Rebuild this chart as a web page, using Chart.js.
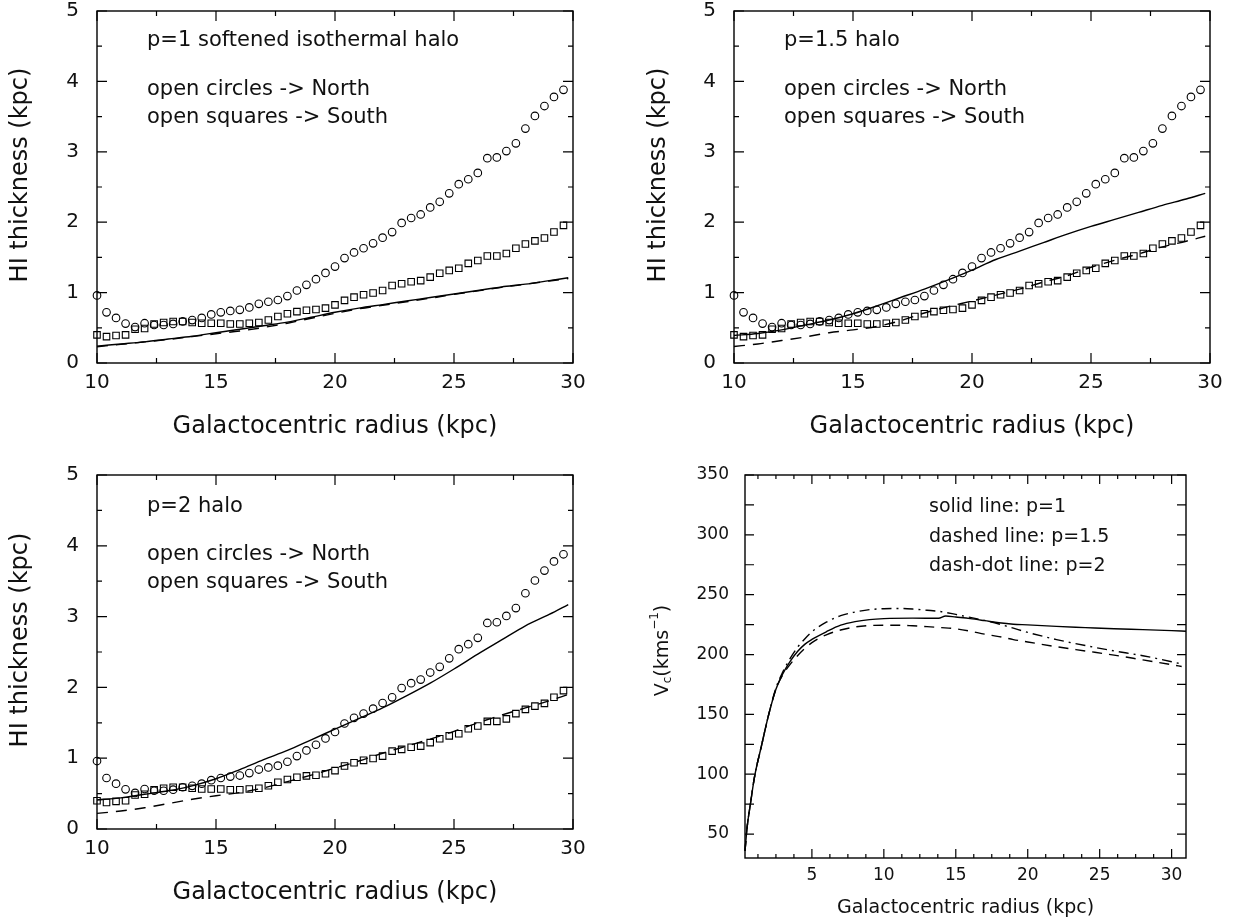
<!DOCTYPE html>
<html>
<head>
<meta charset="utf-8">
<script src="https://cdn.jsdelivr.net/npm/chart.js@4.4.1/dist/chart.umd.min.js"></script>
<style>
  body { margin: 0; background: #fff; width: 1237px; height: 922px; position: relative; overflow: hidden; }
  canvas { position: absolute; }
</style>
</head>
<body>
<canvas id="p1" width="618" height="460" style="left:0;top:0"></canvas>
<canvas id="p15" width="619" height="460" style="left:618px;top:0"></canvas>
<canvas id="p2" width="618" height="462" style="left:0;top:460px"></canvas>
<canvas id="vc" width="619" height="462" style="left:618px;top:460px"></canvas>
<script>
// HI thickness, observed (same points in the three upper/left panels)
const hiRadius = [10.0, 10.4, 10.8, 11.2, 11.6, 12.0, 12.4, 12.8, 13.2, 13.6,
                  14.0, 14.4, 14.8, 15.2, 15.6, 16.0, 16.4, 16.8, 17.2, 17.6,
                  18.0, 18.4, 18.8, 19.2, 19.6, 20.0, 20.4, 20.8, 21.2, 21.6,
                  22.0, 22.4, 22.8, 23.2, 23.6, 24.0, 24.4, 24.8, 25.2, 25.6,
                  26.0, 26.4, 26.8, 27.2, 27.6, 28.0, 28.4, 28.8, 29.2, 29.6];
const northHI = [0.96, 0.72, 0.64, 0.56, 0.51, 0.565, 0.54, 0.54, 0.555, 0.59,
                 0.61, 0.64, 0.69, 0.72, 0.74, 0.755, 0.79, 0.84, 0.87, 0.895,
                 0.95, 1.03, 1.11, 1.19, 1.28, 1.37, 1.49, 1.57, 1.63, 1.70,
                 1.78, 1.86, 1.99, 2.06, 2.11, 2.21, 2.29, 2.41, 2.54, 2.61,
                 2.70, 2.91, 2.92, 3.01, 3.12, 3.33, 3.51, 3.65, 3.78, 3.88];
const southHI = [0.40, 0.375, 0.39, 0.40, 0.48, 0.49, 0.555, 0.575, 0.59, 0.59,
                 0.575, 0.565, 0.565, 0.565, 0.555, 0.555, 0.565, 0.575, 0.61, 0.66,
                 0.70, 0.73, 0.75, 0.76, 0.78, 0.825, 0.89, 0.935, 0.97, 0.995,
                 1.03, 1.10, 1.125, 1.155, 1.17, 1.22, 1.275, 1.315, 1.345, 1.415,
                 1.455, 1.52, 1.52, 1.555, 1.63, 1.69, 1.735, 1.775, 1.86, 1.955];

// model thickness curves
const modelRadius = [10, 11, 12, 13, 14, 15, 16, 17, 18, 19, 20, 21, 22, 23, 24, 25, 26, 27, 28, 29, 29.8];
const p1Solid   = [0.24, 0.27, 0.30, 0.34, 0.38, 0.43, 0.48, 0.53, 0.58, 0.65, 0.72, 0.78, 0.83, 0.88, 0.93, 0.98, 1.03, 1.08, 1.12, 1.17, 1.21];
const p1Dashed  = [0.23, 0.265, 0.30, 0.335, 0.375, 0.415, 0.455, 0.505, 0.565, 0.635, 0.705, 0.77, 0.82, 0.87, 0.92, 0.975, 1.025, 1.075, 1.12, 1.165, 1.20];
const p15Solid  = [0.39, 0.42, 0.47, 0.54, 0.61, 0.70, 0.81, 0.93, 1.05, 1.18, 1.32, 1.47, 1.59, 1.71, 1.83, 1.94, 2.04, 2.14, 2.24, 2.33, 2.41];
const p15Dashed = [0.235, 0.27, 0.32, 0.37, 0.43, 0.47, 0.52, 0.60, 0.71, 0.80, 0.88, 0.965, 1.05, 1.15, 1.24, 1.36, 1.46, 1.55, 1.65, 1.73, 1.80];
const p2Solid   = [0.41, 0.44, 0.49, 0.54, 0.61, 0.71, 0.84, 0.98, 1.11, 1.26, 1.41, 1.56, 1.71, 1.88, 2.06, 2.26, 2.47, 2.67, 2.87, 3.03, 3.17];
const p2Dashed  = [0.22, 0.255, 0.30, 0.36, 0.42, 0.47, 0.515, 0.58, 0.67, 0.76, 0.86, 0.96, 1.07, 1.17, 1.27, 1.38, 1.50, 1.61, 1.71, 1.81, 1.90];

// rotation curves
const vcRadiusP1 = [0.35, 0.5, 0.75, 1.0, 1.5, 2.0, 2.5, 3.0, 3.5, 4.0, 4.5, 5.0, 6.0, 7.0, 8.0, 9.0, 10.0, 12.0, 13.8, 14.3, 15.0, 16.0, 17.0, 18.0, 19.0, 20.0, 22.0, 24.0, 26.0, 28.0, 30.0, 31.0];
const vcP1       = [36, 56, 77, 97, 124, 150, 171, 184.5, 194.5, 202.5, 208.5, 212.6, 219, 224.5, 227.5, 229.2, 230, 230.4, 230.3, 232.2, 231.3, 230, 228.3, 226.5, 225.3, 224.8, 223.5, 222.5, 221.5, 220.8, 220, 219.5];
const vcRadiusP15 = [0.35, 0.5, 0.75, 1.0, 1.5, 2.0, 2.5, 3.0, 3.5, 4.0, 4.5, 5.0, 6.0, 7.0, 8.0, 9.0, 10.0, 11.0, 12.0, 13.0, 14.0, 15.0, 16.0, 17.0, 18.0, 19.0, 20.0, 22.0, 24.0, 26.0, 28.0, 30.0, 30.7];
const vcP15       = [36, 56, 77, 97, 124, 150, 171, 183.5, 192, 199, 205, 210, 216.5, 220.5, 223, 224.2, 224.5, 224.5, 224, 223.3, 222.5, 221.5, 219.5, 217, 215, 212.5, 210.5, 206.5, 203, 199.5, 195.5, 191.5, 190];
const vcRadiusP2 = [0.35, 0.5, 0.75, 1.0, 1.5, 2.0, 2.5, 3.0, 3.5, 4.0, 4.5, 5.0, 6.0, 7.0, 8.0, 9.0, 10.0, 11.0, 12.0, 13.0, 14.0, 15.0, 16.0, 17.0, 18.0, 19.0, 20.0, 22.0, 24.0, 26.0, 28.0, 30.0, 30.7];
const vcP2       = [36, 56, 77, 97, 124, 150, 172, 186, 197, 206, 213, 219, 227, 232.5, 235.5, 237.5, 238.3, 238.5, 238, 237, 235.8, 233.5, 231, 228.5, 225.5, 222, 218.5, 212.5, 207.5, 203, 199, 194, 192];

// axis ticks
const hiXTicks = [10, 15, 20, 25, 30];
const hiXMinor = [12.5, 17.5, 22.5, 27.5];
const hiYTicks = [0, 1, 2, 3, 4, 5];
const hiYMinor = [0.5, 1.5, 2.5, 3.5, 4.5];
const vcXTicks = [5, 10, 15, 20, 25, 30];
const vcXMinor = [1.25, 2.5, 3.75, 6.25, 7.5, 8.75, 11.25, 12.5, 13.75, 16.25, 17.5, 18.75,
                  21.25, 22.5, 23.75, 26.25, 27.5, 28.75];
const vcYTicks = [50, 100, 150, 200, 250, 300, 350];
const vcYMinor = [75, 125, 175, 225, 275, 325];

const p1Notes  = ['p=1 softened isothermal halo', 'open circles -> North', 'open squares -> South'];
const p15Notes = ['p=1.5 halo', 'open circles -> North', 'open squares -> South'];
const p2Notes  = ['p=2 halo', 'open circles -> North', 'open squares -> South'];
const vcNotes  = ['solid line: p=1', 'dashed line: p=1.5', 'dash-dot line: p=2'];

const FONT = 'DejaVu Sans';
Chart.defaults.font.family = FONT;
Chart.defaults.color = '#111';

function pts(xs, ys) {
  return xs.map((x, i) => ({ x: x, y: ys[i] }));
}

// frame, inward ticks on all sides, notes and the left axis title
const framePlugin = {
  id: 'frame',
  afterDraw(chart, args, o) {
    const { ctx, chartArea: a } = chart;
    const xs = chart.scales.x, ys = chart.scales.y;
    ctx.save();
    ctx.strokeStyle = '#000';
    ctx.lineWidth = 1.4;
    ctx.strokeRect(a.left, a.top, a.right - a.left, a.bottom - a.top);
    ctx.lineWidth = 1.2;
    ctx.beginPath();
    const xt = (vals, len) => vals.forEach(v => {
      const px = xs.getPixelForValue(v);
      ctx.moveTo(px, a.bottom); ctx.lineTo(px, a.bottom - len);
      ctx.moveTo(px, a.top); ctx.lineTo(px, a.top + len);
    });
    const yt = (vals, len) => vals.forEach(v => {
      const py = ys.getPixelForValue(v);
      ctx.moveTo(a.left, py); ctx.lineTo(a.left + len, py);
      ctx.moveTo(a.right, py); ctx.lineTo(a.right - len, py);
    });
    xt(o.xMajor, o.majorLen); xt(o.xMinor, o.minorLen);
    yt(o.yMajor, o.majorLen); yt(o.yMinor, o.yMinorLen || o.minorLen);
    ctx.stroke();

    ctx.fillStyle = '#111';
    ctx.font = o.noteFont;
    ctx.textBaseline = 'alphabetic';
    ctx.textAlign = 'left';
    o.notes.forEach((t, i) => ctx.fillText(t, a.left + o.noteX, a.top + o.noteY[i]));

    if (o.yTitle) {
      const t = o.yTitle;
      ctx.save();
      ctx.translate(t.x, (a.top + a.bottom) / 2 + t.dy);
      ctx.rotate(-Math.PI / 2);
      ctx.textBaseline = 'middle';
      let w = 0;
      t.parts.forEach(p => { ctx.font = p[1]; w += ctx.measureText(p[0]).width; });
      let cx = -w / 2;
      t.parts.forEach(p => {
        ctx.font = p[1];
        ctx.fillText(p[0], cx, p[2]);
        cx += ctx.measureText(p[0]).width;
      });
      ctx.restore();
    }
    ctx.restore();
  }
};

function lineSet(data, dash) {
  return {
    data: data, showLine: true, pointRadius: 0, borderColor: '#000', borderWidth: 1.4,
    borderDash: dash, cubicInterpolationMode: 'monotone', fill: false, clip: false
  };
}
function markSet(data, style, r) {
  return {
    data: data, showLine: false, pointStyle: style, pointRadius: r, borderWidth: 1.1,
    borderColor: '#000', backgroundColor: 'rgba(0,0,0,0)', clip: false
  };
}

function makeChart(id, p) {
  new Chart(document.getElementById(id), {
    type: 'scatter',
    data: { datasets: p.datasets },
    options: {
      responsive: false,
      animation: false,
      events: [],
      layout: { padding: p.pad },
      plugins: {
        legend: { display: false },
        tooltip: { enabled: false },
        frame: p.frame
      },
      scales: {
        x: {
          type: 'linear', min: p.xMin, max: p.xMax,
          grid: { display: false, drawTicks: false }, border: { display: false },
          afterBuildTicks: s => { s.ticks = p.xTicks.map(v => ({ value: v })); },
          ticks: { font: { size: p.tickSize }, padding: p.xTickPad, maxRotation: 0, autoSkip: false },
          title: { display: true, text: 'Galactocentric radius (kpc)', font: { size: p.xTitleSize },
                   padding: { top: 0, bottom: p.xTitlePad } },
          afterFit: s => { s.height = p.xHeight; s.paddingLeft = 0; s.paddingRight = 0; }
        },
        y: {
          type: 'linear', min: p.yMin, max: p.yMax,
          grid: { display: false, drawTicks: false }, border: { display: false },
          afterBuildTicks: s => { s.ticks = p.yTicks.map(v => ({ value: v })); },
          ticks: { font: { size: p.tickSize }, padding: p.yTickPad, autoSkip: false },
          title: { display: false },
          afterFit: s => { s.width = p.yWidth; s.paddingTop = 0; s.paddingBottom = 0; }
        }
      }
    },
    plugins: [framePlugin]
  });
}

function hiPanel(id, solid, dashed, notes, geo) {
  makeChart(id, {
    datasets: [
      markSet(pts(hiRadius, northHI), 'circle', 3.8),
      markSet(pts(hiRadius, southHI), 'rect', 4.6),
      lineSet(pts(modelRadius, solid), []),
      lineSet(pts(modelRadius, dashed), [11, 8])
    ],
    pad: geo.pad, xMin: 10, xMax: 30, yMin: 0, yMax: 5,
    xTicks: hiXTicks, yTicks: hiYTicks, tickSize: 20, xTickPad: 8, yTickPad: 18,
    xTitleSize: 24, xTitlePad: geo.xTitlePad, xHeight: geo.xHeight, yWidth: geo.yWidth,
    frame: {
      xMajor: hiXTicks, xMinor: hiXMinor, yMajor: hiYTicks, yMinor: hiYMinor,
      majorLen: 10, minorLen: 5, notes: notes, noteFont: '21px ' + FONT,
      noteX: 50, noteY: geo.noteY,
      yTitle: { x: geo.yTitleX, dy: -12, parts: [['HI thickness (kpc)', '24px ' + FONT, 0]] }
    }
  });
}

hiPanel('p1', p1Solid, p1Dashed, p1Notes,
  { pad: { left: 0, top: 11, right: 45, bottom: 0 }, xHeight: 97, yWidth: 97, xTitlePad: 19, yTitleX: 21, noteY: [35, 84, 112] });
hiPanel('p15', p15Solid, p15Dashed, p15Notes,
  { pad: { left: 0, top: 11, right: 27, bottom: 0 }, xHeight: 97, yWidth: 116, xTitlePad: 19, yTitleX: 41, noteY: [35, 84, 112] });
hiPanel('p2', p2Solid, p2Dashed, p2Notes,
  { pad: { left: 0, top: 15, right: 45, bottom: 0 }, xHeight: 93, yWidth: 97, xTitlePad: 15, yTitleX: 21, noteY: [37, 85, 113] });

makeChart('vc', {
  datasets: [
    lineSet(pts(vcRadiusP1, vcP1), []),
    lineSet(pts(vcRadiusP15, vcP15), [10, 7]),
    lineSet(pts(vcRadiusP2, vcP2), [10, 5, 2, 5])
  ],
  pad: { left: 0, top: 15, right: 51, bottom: 0 },
  xMin: 0.35, xMax: 31, yMin: 30, yMax: 350,
  xTicks: vcXTicks, yTicks: vcYTicks, tickSize: 17, xTickPad: 7, yTickPad: 16,
  xTitleSize: 19, xTitlePad: 3, xHeight: 64, yWidth: 127,
  frame: {
    xMajor: vcXTicks, xMinor: vcXMinor, yMajor: vcYTicks, yMinor: vcYMinor,
    majorLen: 9, minorLen: 4, yMinorLen: 9, notes: vcNotes, noteFont: '19px ' + FONT,
    noteX: 184, noteY: [37, 67, 96],
    yTitle: { x: 45, dy: -16, parts: [['V', '19px ' + FONT, 0], ['c', '12px ' + FONT, 5], ['(kms', '19px ' + FONT, 0],
                                     ['\u22121', '12px ' + FONT, -8], [')', '19px ' + FONT, 0]] }
  }
});
</script>
</body>
</html>
